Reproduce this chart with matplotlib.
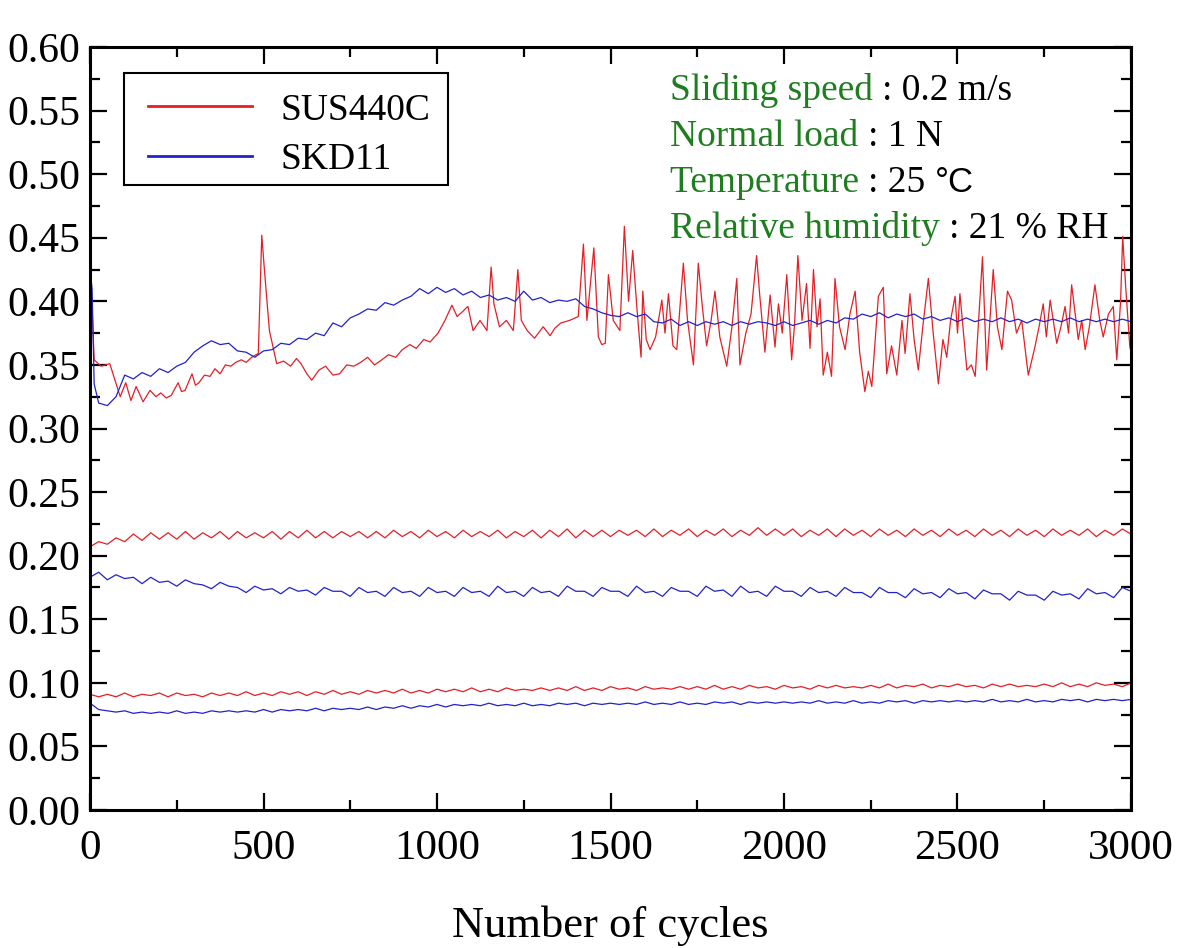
import numpy as np
import matplotlib
matplotlib.use('Agg')
import matplotlib.pyplot as plt
from matplotlib.patches import Rectangle

plt.rcParams['font.family'] = ['Liberation Serif', 'DejaVu Serif']

RED = '#e41f26'
BLUE = '#2222cc'
GREEN = '#1e7d1e'

# ---- upper traces (cycles, friction coefficient) ----
sus_top_x = [0, 6, 12, 32, 57, 72, 87, 103, 118, 133, 153, 173, 190, 204, 220, 234, 254, 264, 274, 294,
             304, 314, 330, 346, 360, 375, 390, 406, 420, 436, 450, 466, 485, 495, 502, 517, 538, 558, 578, 595,
             608, 625, 639, 660, 679, 700, 719, 740, 760, 780, 800, 820, 841, 860, 881, 900, 922, 940, 962, 980,
             1003, 1023, 1043, 1058, 1074, 1089, 1104, 1124, 1144, 1156, 1164, 1180, 1200, 1220, 1233, 1243, 1260, 1281, 1306, 1326,
             1340, 1357, 1382, 1407, 1422, 1432, 1452, 1465, 1475, 1485, 1494, 1508, 1527, 1540, 1552, 1564, 1576, 1588, 1593, 1603,
             1614, 1630, 1648, 1657, 1667, 1680, 1691, 1700, 1710, 1722, 1739, 1753, 1765, 1777, 1790, 1801, 1815, 1835, 1850, 1864,
             1873, 1890, 1905, 1921, 1930, 1945, 1960, 1974, 1984, 1995, 2008, 2022, 2030, 2040, 2052, 2065, 2075, 2085, 2095, 2104,
             2113, 2125, 2137, 2147, 2160, 2176, 2190, 2205, 2218, 2233, 2243, 2253, 2272, 2286, 2296, 2310, 2325, 2340, 2349, 2363,
             2375, 2387, 2400, 2416, 2430, 2445, 2458, 2469, 2480, 2493, 2500, 2507, 2527, 2540, 2551, 2572, 2584, 2603, 2615, 2628,
             2644, 2656, 2670, 2685, 2704, 2723, 2735, 2747, 2756, 2767, 2786, 2798, 2810, 2820, 2829, 2848, 2858, 2868, 2880, 2896,
             2910, 2920, 2935, 2949, 2959, 2970, 2976, 2985, 2997, 3000]
sus_top_y = [0.400, 0.395, 0.354, 0.349, 0.351, 0.338, 0.325, 0.336, 0.322, 0.333, 0.321, 0.330, 0.325, 0.328, 0.324, 0.326, 0.336, 0.329, 0.330, 0.343,
             0.334, 0.336, 0.342, 0.341, 0.347, 0.343, 0.350, 0.349, 0.352, 0.354, 0.352, 0.356, 0.359, 0.452, 0.427, 0.377, 0.351, 0.353, 0.349, 0.355,
             0.351, 0.343, 0.338, 0.346, 0.349, 0.342, 0.343, 0.350, 0.349, 0.352, 0.356, 0.350, 0.354, 0.358, 0.356, 0.362, 0.366, 0.363, 0.370, 0.368,
             0.375, 0.385, 0.397, 0.388, 0.392, 0.396, 0.377, 0.385, 0.377, 0.427, 0.398, 0.380, 0.385, 0.377, 0.425, 0.385, 0.377, 0.371, 0.380, 0.373,
             0.379, 0.383, 0.385, 0.388, 0.445, 0.385, 0.442, 0.372, 0.366, 0.367, 0.421, 0.385, 0.377, 0.459, 0.400, 0.440, 0.395, 0.356, 0.408, 0.370,
             0.362, 0.372, 0.401, 0.375, 0.406, 0.365, 0.362, 0.395, 0.430, 0.385, 0.350, 0.430, 0.395, 0.365, 0.385, 0.408, 0.372, 0.349, 0.380, 0.418,
             0.350, 0.375, 0.390, 0.436, 0.405, 0.360, 0.405, 0.364, 0.398, 0.375, 0.421, 0.354, 0.380, 0.436, 0.385, 0.414, 0.363, 0.425, 0.380, 0.402,
             0.342, 0.360, 0.341, 0.418, 0.380, 0.362, 0.390, 0.408, 0.360, 0.329, 0.345, 0.333, 0.404, 0.411, 0.343, 0.365, 0.342, 0.385, 0.359, 0.406,
             0.370, 0.346, 0.380, 0.418, 0.375, 0.335, 0.370, 0.356, 0.385, 0.404, 0.375, 0.406, 0.346, 0.350, 0.341, 0.435, 0.346, 0.425, 0.380, 0.362,
             0.408, 0.401, 0.375, 0.385, 0.342, 0.364, 0.380, 0.398, 0.372, 0.401, 0.367, 0.380, 0.396, 0.375, 0.413, 0.370, 0.385, 0.362, 0.380, 0.413,
             0.385, 0.372, 0.390, 0.396, 0.354, 0.400, 0.451, 0.410, 0.363, 0.370]

skd_top_x = [0, 6, 12] + list(range(25, 3001, 25))
skd_top_y = [0.425, 0.410, 0.335,
             0.320, 0.318, 0.325, 0.342, 0.339, 0.344, 0.341, 0.347, 0.344, 0.349,
             0.352, 0.360, 0.365, 0.369, 0.366, 0.367, 0.361, 0.360, 0.356, 0.361,
             0.362, 0.367, 0.366, 0.371, 0.370, 0.375, 0.373, 0.383, 0.380, 0.387,
             0.390, 0.394, 0.393, 0.399, 0.397, 0.401, 0.404, 0.410, 0.406, 0.411,
             0.407, 0.410, 0.405, 0.408, 0.403, 0.405, 0.401, 0.403, 0.400, 0.408,
             0.401, 0.403, 0.399, 0.401, 0.400, 0.402, 0.396, 0.394, 0.391, 0.389,
             0.388, 0.391, 0.388, 0.390, 0.384, 0.383, 0.386, 0.381, 0.384, 0.381,
             0.384, 0.382, 0.384, 0.381, 0.384, 0.382, 0.384, 0.383, 0.381, 0.384,
             0.381, 0.383, 0.385, 0.382, 0.385, 0.383, 0.387, 0.386, 0.390, 0.388,
             0.391, 0.387, 0.390, 0.388, 0.390, 0.386, 0.388, 0.385, 0.387, 0.384,
             0.387, 0.384, 0.386, 0.384, 0.387, 0.384, 0.386, 0.383, 0.386, 0.384,
             0.386, 0.384, 0.387, 0.384, 0.386, 0.384, 0.386, 0.384, 0.386, 0.384]

# ---- steady traces, one value every 25 cycles ----
cycles = np.arange(0, 3001, 25)

sus_mid = [0.207, 0.211, 0.209, 0.214, 0.211, 0.217, 0.212, 0.218, 0.213, 0.218,
           0.213, 0.219, 0.213, 0.218, 0.214, 0.219, 0.213, 0.219, 0.214, 0.218,
           0.214, 0.219, 0.213, 0.219, 0.214, 0.220, 0.214, 0.219, 0.214, 0.219,
           0.215, 0.219, 0.214, 0.219, 0.214, 0.220, 0.215, 0.219, 0.214, 0.220,
           0.215, 0.219, 0.214, 0.220, 0.215, 0.219, 0.215, 0.220, 0.214, 0.219,
           0.215, 0.220, 0.214, 0.220, 0.215, 0.221, 0.214, 0.220, 0.215, 0.220,
           0.215, 0.220, 0.216, 0.220, 0.215, 0.221, 0.215, 0.220, 0.216, 0.221,
           0.215, 0.220, 0.216, 0.221, 0.215, 0.220, 0.216, 0.222, 0.216, 0.221,
           0.216, 0.221, 0.215, 0.220, 0.216, 0.221, 0.215, 0.221, 0.216, 0.220,
           0.215, 0.221, 0.216, 0.220, 0.215, 0.221, 0.216, 0.220, 0.215, 0.221,
           0.216, 0.220, 0.215, 0.221, 0.216, 0.220, 0.215, 0.221, 0.216, 0.220,
           0.215, 0.221, 0.216, 0.220, 0.216, 0.221, 0.215, 0.220, 0.216, 0.221,
           0.217]

skd_mid = [0.183, 0.187, 0.181, 0.185, 0.182, 0.183, 0.178, 0.183, 0.179, 0.180,
           0.176, 0.181, 0.178, 0.177, 0.174, 0.179, 0.176, 0.175, 0.171, 0.176,
           0.173, 0.174, 0.170, 0.175, 0.172, 0.173, 0.169, 0.175, 0.172, 0.172,
           0.168, 0.175, 0.171, 0.172, 0.168, 0.175, 0.171, 0.172, 0.168, 0.175,
           0.171, 0.172, 0.168, 0.175, 0.171, 0.172, 0.168, 0.176, 0.171, 0.172,
           0.168, 0.175, 0.171, 0.172, 0.168, 0.176, 0.172, 0.172, 0.168, 0.175,
           0.172, 0.172, 0.168, 0.176, 0.171, 0.172, 0.168, 0.175, 0.172, 0.172,
           0.168, 0.176, 0.172, 0.173, 0.168, 0.176, 0.171, 0.172, 0.168, 0.176,
           0.172, 0.172, 0.168, 0.175, 0.171, 0.172, 0.168, 0.175, 0.171, 0.171,
           0.167, 0.175, 0.171, 0.171, 0.167, 0.174, 0.170, 0.171, 0.167, 0.174,
           0.170, 0.171, 0.166, 0.173, 0.170, 0.170, 0.165, 0.172, 0.169, 0.169,
           0.165, 0.172, 0.169, 0.170, 0.166, 0.174, 0.170, 0.171, 0.167, 0.175,
           0.172]

sus_low = [0.091, 0.089, 0.091, 0.089, 0.092, 0.089, 0.091, 0.090, 0.092, 0.089,
           0.092, 0.090, 0.091, 0.089, 0.092, 0.090, 0.092, 0.090, 0.093, 0.090,
           0.092, 0.090, 0.093, 0.091, 0.093, 0.090, 0.093, 0.091, 0.094, 0.091,
           0.093, 0.091, 0.094, 0.092, 0.094, 0.092, 0.095, 0.092, 0.094, 0.092,
           0.095, 0.093, 0.095, 0.093, 0.096, 0.093, 0.095, 0.093, 0.096, 0.094,
           0.095, 0.094, 0.096, 0.094, 0.096, 0.094, 0.097, 0.094, 0.096, 0.094,
           0.097, 0.095, 0.096, 0.094, 0.097, 0.095, 0.096, 0.095, 0.097, 0.095,
           0.097, 0.095, 0.098, 0.095, 0.097, 0.095, 0.098, 0.096, 0.097, 0.095,
           0.098, 0.096, 0.097, 0.095, 0.098, 0.096, 0.098, 0.096, 0.097, 0.096,
           0.098, 0.096, 0.099, 0.096, 0.098, 0.097, 0.099, 0.096, 0.098, 0.097,
           0.099, 0.097, 0.098, 0.096, 0.099, 0.097, 0.099, 0.097, 0.098, 0.097,
           0.099, 0.097, 0.100, 0.097, 0.099, 0.097, 0.100, 0.098, 0.099, 0.097,
           0.100]

skd_low = [0.084, 0.079, 0.078, 0.077, 0.078, 0.076, 0.077, 0.076, 0.077, 0.076,
           0.078, 0.076, 0.077, 0.076, 0.078, 0.077, 0.078, 0.077, 0.078, 0.077,
           0.079, 0.077, 0.079, 0.078, 0.079, 0.078, 0.080, 0.078, 0.080, 0.079,
           0.080, 0.079, 0.081, 0.079, 0.081, 0.080, 0.082, 0.080, 0.082, 0.081,
           0.083, 0.081, 0.083, 0.082, 0.083, 0.082, 0.084, 0.082, 0.083, 0.082,
           0.084, 0.082, 0.083, 0.082, 0.084, 0.083, 0.084, 0.082, 0.084, 0.083,
           0.084, 0.083, 0.084, 0.083, 0.085, 0.083, 0.084, 0.083, 0.085, 0.083,
           0.084, 0.083, 0.085, 0.084, 0.085, 0.083, 0.085, 0.084, 0.085, 0.084,
           0.085, 0.084, 0.085, 0.084, 0.086, 0.084, 0.085, 0.084, 0.086, 0.084,
           0.085, 0.084, 0.086, 0.085, 0.086, 0.084, 0.086, 0.085, 0.086, 0.085,
           0.086, 0.085, 0.086, 0.085, 0.087, 0.085, 0.086, 0.085, 0.087, 0.085,
           0.086, 0.085, 0.087, 0.086, 0.087, 0.085, 0.087, 0.086, 0.087, 0.086,
           0.087]

conditions = [('Sliding speed ', ': 0.2 m/s', ''),
              ('Normal load ', ': 1 N', ''),
              ('Temperature ', ': 25 ', '\u00b0C'),
              ('Relative humidity ', ': 21 % RH', '')]

W, H = 1198, 948
fig = plt.figure(figsize=(W / 100, H / 100), dpi=100)
ax = fig.add_axes([90 / W, 1 - 810 / H, (1131 - 90) / W, (810 - 47) / H])

lw = 0.9
l1, = ax.plot(sus_top_x, sus_top_y, color=RED, lw=lw, label='SUS440C')
l2, = ax.plot(skd_top_x, skd_top_y, color=BLUE, lw=lw, label='SKD11')
ax.plot(cycles, sus_mid, color=RED, lw=lw)
ax.plot(cycles, skd_mid, color=BLUE, lw=lw)
ax.plot(cycles, sus_low, color=RED, lw=lw)
ax.plot(cycles, skd_low, color=BLUE, lw=lw)

ax.set_xlim(0, 3000)
ax.set_ylim(0, 0.6)
ax.set_xticks(np.arange(0, 3001, 500))
ax.set_xticks(np.arange(250, 3000, 500), minor=True)
ax.set_yticks(np.arange(0, 0.601, 0.05))
ax.set_yticks(np.arange(0.025, 0.6, 0.05), minor=True)
ax.yaxis.set_major_formatter(plt.FormatStrFormatter('%.2f'))
ax.tick_params(which='both', direction='in', top=True, right=True, width=1.6, labelsize=31)
ax.tick_params(which='major', length=12)
ax.tick_params(which='minor', length=7)
ax.tick_params(axis='x', pad=14)
ax.tick_params(axis='y', pad=7, labelsize=30)
for s in ax.spines.values():
    s.set_linewidth(2.2)

ax.set_xlabel('Number of cycles', fontsize=32, labelpad=27)

# legend entries without frame; box drawn separately to sit where the original does
def ax_frac(px, py):
    return (px - 90) / (1131 - 90), (810 - py) / (810 - 47)

leg = ax.legend(handles=[l1, l2], loc='upper left', bbox_to_anchor=ax_frac(148, 93),
                borderaxespad=0, borderpad=0, fontsize=27, handlelength=2.77,
                handletextpad=0.77, labelspacing=0.40, frameon=False)
for h in leg.get_lines():
    h.set_linewidth(2.0)
x0, y1 = ax_frac(124, 73)
x1, y0 = ax_frac(448, 185)
ax.add_patch(Rectangle((x0, y0), x1 - x0, y1 - y0, transform=ax.transAxes,
                       fill=False, edgecolor='black', linewidth=1.5, zorder=5))

# test conditions: green name, black value
fig.canvas.draw()
renderer = fig.canvas.get_renderer()
baselines = [100, 146, 192, 238]
for (name, value, unit), yb in zip(conditions, baselines):
    t = fig.text(670 / W, 1 - yb / H, name, color=GREEN, fontsize=27, va='baseline')
    bb = t.get_window_extent(renderer)
    t2 = fig.text(bb.x1 / W, 1 - yb / H, value, color='black', fontsize=27, va='baseline')
    if unit:
        bb2 = t2.get_window_extent(renderer)
        fig.text(bb2.x1 / W, 1 - yb / H, unit, color='black', fontsize=25,
                 family=['Liberation Sans', 'DejaVu Sans'], va='baseline')

fig.savefig('out.png', dpi=100)
